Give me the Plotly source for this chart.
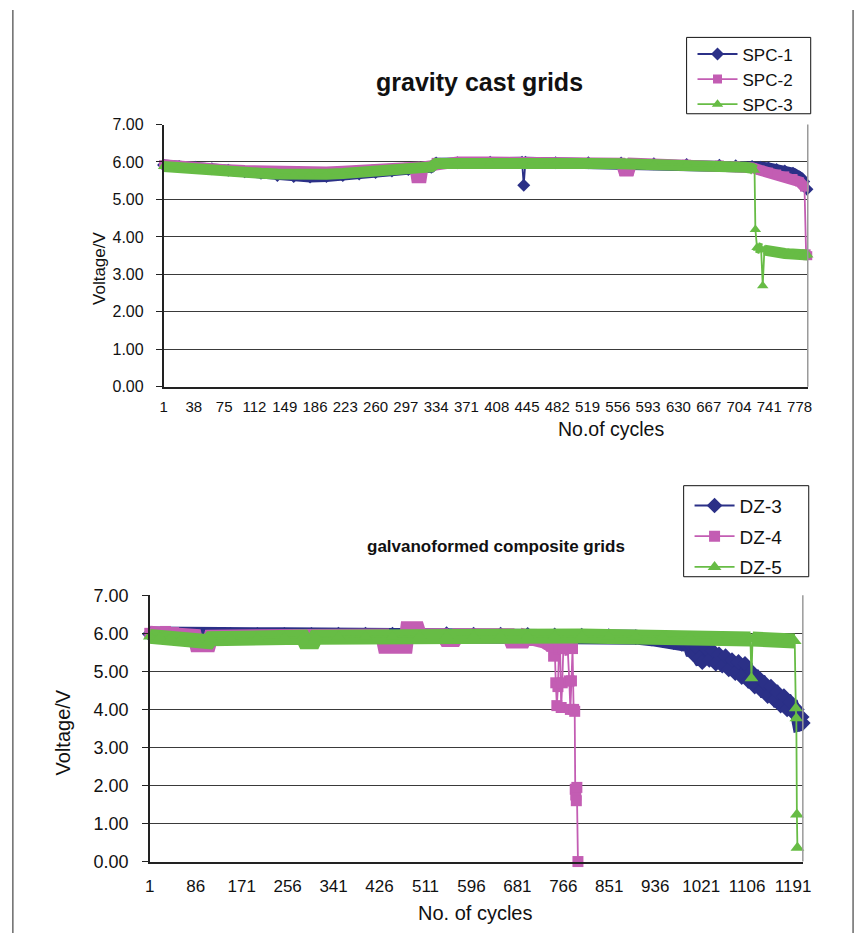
import plotly.graph_objects as go

W, H = 865, 943

# ---------------- top chart: gravity cast grids ----------------
top_ticks = [1, 38, 75, 112, 149, 186, 223, 260, 297, 334, 371, 408, 445,
             482, 519, 556, 593, 630, 667, 704, 741, 778]

spc1_cycles = [1, 20, 40, 60, 80, 100, 120, 140, 160, 180, 200, 220, 240, 260, 280, 300, 320, 328, 334, 360,
               400, 439, 441, 443, 480, 520, 560, 600, 640, 680, 700, 720, 730, 740, 750, 760, 770, 778, 783, 787]
spc1_volts = [5.92, 5.88, 5.86, 5.82, 5.78, 5.74, 5.70, 5.64, 5.61, 5.60, 5.61, 5.64, 5.68, 5.72, 5.76, 5.80, 5.84, 5.86, 5.97, 5.98,
              5.99, 5.99, 5.38, 5.99, 5.98, 5.98, 5.97, 5.95, 5.93, 5.91, 5.90, 5.88, 5.86, 5.84, 5.80, 5.76, 5.70, 5.60, 5.48, 5.27]
spc1_spikes = [441]

spc2_cycles = [1, 20, 40, 60, 80, 100, 120, 140, 160, 180, 200, 220, 240, 260, 280, 300, 308, 310, 316, 318,
               328, 334, 360, 400, 440, 480, 520, 560, 563, 570, 573, 600, 640, 680, 700, 720, 730, 740, 750, 760,
               770, 778, 784, 786, 788]
spc2_volts = [5.93, 5.88, 5.85, 5.81, 5.79, 5.77, 5.75, 5.73, 5.72, 5.72, 5.73, 5.75, 5.78, 5.81, 5.83, 5.86, 5.86, 5.58, 5.58, 5.87,
              5.90, 5.99, 6.00, 6.00, 6.00, 5.99, 5.98, 5.97, 5.76, 5.76, 5.97, 5.96, 5.94, 5.92, 5.90, 5.85, 5.78, 5.73, 5.68, 5.63,
              5.56, 5.47, 5.33, 3.55, 3.50]
spc2_spikes = [786, 788]

spc3_cycles = [1, 20, 40, 60, 80, 100, 120, 140, 160, 180, 200, 220, 240, 260, 280, 300, 320, 328, 334, 360,
               400, 440, 480, 520, 560, 600, 640, 680, 700, 712, 720, 723, 724, 726, 728, 731, 733, 735, 740, 745,
               750, 755, 760, 765, 770, 775, 780, 785, 788]
spc3_volts = [5.88, 5.84, 5.80, 5.76, 5.74, 5.72, 5.70, 5.68, 5.66, 5.66, 5.67, 5.69, 5.72, 5.76, 5.78, 5.82, 5.85, 5.87, 5.96, 5.97,
              5.97, 5.97, 5.97, 5.96, 5.95, 5.94, 5.92, 5.90, 5.88, 5.86, 5.83, 5.78, 4.20, 3.72, 3.70, 3.68, 2.70, 3.65, 3.62, 3.60,
              3.60, 3.58, 3.56, 3.55, 3.53, 3.52, 3.50, 3.50, 3.52]
spc3_spikes = [724, 733]

# ---------------- bottom chart: galvanoformed composite grids ----------------
bot_ticks = [1, 86, 171, 256, 341, 426, 511, 596, 681, 766, 851, 936, 1021, 1106, 1191]

dz3_cycles = [1, 20, 40, 60, 80, 100, 150, 200, 250, 300, 350, 400, 450, 500, 550, 600, 650, 700, 750, 800,
              850, 900, 930, 950, 970, 985, 995, 1000, 1006, 1012, 1018, 1023, 1030, 1036, 1042, 1048, 1054, 1060, 1066, 1072,
              1078, 1084, 1090, 1096, 1102, 1108, 1114, 1120, 1126, 1132, 1138, 1144, 1150, 1156, 1162, 1168, 1174, 1180, 1186, 1192,
              1198, 1203, 1207, 1209]
dz3_volts = [5.98, 5.97, 5.96, 5.96, 5.96, 5.96, 5.96, 5.96, 5.96, 5.96, 5.97, 5.97, 5.97, 5.98, 5.98, 5.97, 5.97, 5.96, 5.95, 5.94,
             5.93, 5.90, 5.86, 5.82, 5.77, 5.72, 5.68, 5.70, 5.45, 5.65, 5.35, 5.24, 5.60, 5.30, 5.55, 5.20, 5.45, 5.15, 5.40, 5.05,
             5.30, 4.95, 5.25, 4.85, 5.20, 4.75, 5.00, 4.60, 4.85, 4.50, 4.70, 4.35, 4.60, 4.25, 4.45, 4.10, 4.35, 4.00, 4.20, 3.90,
             4.00, 3.62, 3.80, 3.64]
dz3_spikes = []

dz4_cycles = [1, 15, 30, 45, 60, 84, 88, 110, 114, 150, 200, 250, 300, 350, 400, 432, 436, 474, 478, 496,
              500, 545, 549, 565, 569, 600, 640, 666, 670, 692, 696, 720, 730, 740, 745, 748, 750, 752, 754, 756,
              758, 760, 762, 764, 766, 770, 774, 777, 779, 781, 783, 785, 787, 788, 789, 790, 791, 793]
dz4_volts = [6.00, 5.98, 6.05, 6.02, 5.96, 5.92, 5.70, 5.70, 5.90, 5.90, 5.90, 5.91, 5.92, 5.92, 5.93, 5.93, 5.66, 5.66, 6.12, 6.12,
             5.94, 5.94, 5.84, 5.84, 5.94, 5.94, 5.94, 5.94, 5.80, 5.80, 5.92, 5.88, 5.80, 5.72, 5.66, 5.40, 5.65, 4.70, 4.10, 4.60,
             5.60, 5.65, 4.05, 4.70, 5.60, 5.65, 5.62, 4.75, 4.00, 4.75, 5.60, 4.00, 3.95, 1.90, 1.75, 1.60, 1.95, 0.00]
dz4_spikes = [748, 752, 754, 756, 762, 764, 777, 779, 781, 785, 787, 788, 789, 790, 791, 793]

dz5_cycles = [1, 20, 40, 60, 84, 88, 110, 114, 150, 200, 250, 284, 288, 304, 308, 350, 400, 450, 500, 550,
              600, 650, 700, 750, 800, 850, 900, 950, 1000, 1050, 1100, 1112, 1114, 1116, 1150, 1180, 1194, 1196, 1197, 1198,
              1199]
dz5_volts = [5.92, 5.90, 5.88, 5.86, 5.85, 5.78, 5.78, 5.86, 5.87, 5.88, 5.89, 5.90, 5.78, 5.78, 5.90, 5.91, 5.92, 5.92, 5.93, 5.93,
             5.93, 5.93, 5.93, 5.93, 5.93, 5.92, 5.92, 5.91, 5.90, 5.88, 5.86, 5.85, 4.82, 5.85, 5.84, 5.82, 5.80, 4.03, 3.77, 1.24,
             0.36]
dz5_spikes = [1114, 1196, 1197, 1198, 1199]

BLUE, PINK, GREEN = "#2B3087", "#C35DB3", "#67BC45"
FONT = "Liberation Sans, Arial, sans-serif"


def band(cyc, v, spikes):
    """Continuous body of a series: spike readings break the thick band."""
    bx, by = [], []
    for c, y in zip(cyc, v):
        if c in spikes:
            bx.append(None)
            by.append(None)
        else:
            bx.append(c)
            by.append(y)
    return bx, by


fig = go.Figure()


def add_series(name, cyc, v, spikes, color, symbol, xa, ya, legend, bw, ms):
    bx, by = band(cyc, v, spikes)
    fig.add_trace(go.Scatter(x=bx, y=by, mode="lines", xaxis=xa, yaxis=ya,
                             line=dict(color=color, width=bw), showlegend=False,
                             hoverinfo="skip", legend=legend, connectgaps=False))
    fig.add_trace(go.Scatter(x=cyc, y=v, mode="lines+markers", name=name, xaxis=xa, yaxis=ya,
                             line=dict(color=color, width=1.8),
                             marker=dict(color=color, symbol=symbol, size=ms),
                             legend=legend, legendgroup=name, cliponaxis=False))


add_series("SPC-1", spc1_cycles, spc1_volts, spc1_spikes, BLUE, "diamond", "x", "y", "legend", 11, 10)
add_series("SPC-2", spc2_cycles, spc2_volts, spc2_spikes, PINK, "square", "x", "y", "legend", 11, 9)
add_series("SPC-3", spc3_cycles, spc3_volts, spc3_spikes, GREEN, "triangle-up", "x", "y", "legend", 11, 10)
add_series("DZ-3", dz3_cycles, dz3_volts, dz3_spikes, BLUE, "diamond", "x2", "y2", "legend2", 15, 12)
add_series("DZ-4", dz4_cycles, dz4_volts, dz4_spikes, PINK, "square", "x2", "y2", "legend2", 15, 11)
add_series("DZ-5", dz5_cycles, dz5_volts, dz5_spikes, GREEN, "triangle-up", "x2", "y2", "legend2", 15, 12)


def px(x):
    return x / W


def py(y):
    return 1 - y / H


yax_common = dict(range=[0, 7], dtick=1, tickformat=".2f", showgrid=True, gridcolor="#3a3a3a",
                  gridwidth=1, zeroline=False, showline=True, linecolor="#222", linewidth=1.5,
                  ticks="outside", ticklen=6, tickcolor="#222", fixedrange=True)

fig.update_layout(
    width=W, height=H, margin=dict(l=0, r=0, t=0, b=0),
    paper_bgcolor="white", plot_bgcolor="white",
    font=dict(family=FONT, color="#111"),
    showlegend=True,
    xaxis=dict(domain=[px(161), px(815)], range=[1, 788], tickvals=top_ticks,
               showgrid=False, zeroline=False, showline=True, linecolor="#222", linewidth=1.5,
               ticks="", tickfont=dict(size=15), tickangle=0, ticklabelstandoff=5, anchor="y"),
    yaxis=dict(domain=[py(385), py(117)], anchor="x", tickfont=dict(size=16),
               ticklabelstandoff=9, **yax_common),
    xaxis2=dict(domain=[px(147), px(810)], range=[1, 1209], tickvals=bot_ticks,
                showgrid=False, zeroline=False, showline=True, linecolor="#222", linewidth=1.5,
                ticks="", tickfont=dict(size=17), tickangle=0, ticklabelstandoff=8, anchor="y2"),
    yaxis2=dict(domain=[py(870), py(598)], anchor="x2", tickfont=dict(size=18),
                ticklabelstandoff=10, **yax_common),
    legend=dict(x=px(698), y=py(27), xanchor="left", yanchor="top", bgcolor="rgba(0,0,0,0)",
                borderwidth=0, font=dict(size=17), tracegroupgap=0, itemwidth=40),
    legend2=dict(x=px(695), y=py(487), xanchor="left", yanchor="top", bgcolor="rgba(0,0,0,0)",
                 borderwidth=0, font=dict(size=19), tracegroupgap=3, itemwidth=40),
)

annots = [
    dict(text="<b>gravity cast grids</b>", x=px(482), y=py(74), size=25),
    dict(text="No.of cycles", x=px(615), y=py(428), size=19.5),
    dict(text="Voltage/V", x=px(96), y=py(264), size=17, textangle=-90),
    dict(text="<b>galvanoformed composite grids</b>", x=px(498), y=py(548), size=17),
    dict(text="No. of cycles", x=px(477), y=py(923), size=20),
    dict(text="Voltage/V", x=px(59), y=py(738), size=20, textangle=-90),
]
for a in annots:
    fig.add_annotation(text=a["text"], x=a["x"], y=a["y"], xref="paper", yref="paper",
                       xanchor="center", yanchor="middle", showarrow=False,
                       textangle=a.get("textangle", 0),
                       font=dict(size=a["size"], family=FONT, color="#111"))

# legend boxes
for x0, y0, x1, y1 in ((692, 28, 818, 106), (689, 486, 816, 579)):
    fig.add_shape(type="rect", xref="paper", yref="paper", layer="below",
                  x0=px(x0), x1=px(x1), y0=py(y1), y1=py(y0),
                  line=dict(color="#111", width=1), fillcolor="white")

# plot-area right borders (grey) and outer frame
for xd, yd in (("x domain", "y domain"), ("x2 domain", "y2 domain")):
    fig.add_shape(type="line", xref=xd, yref=yd, x0=1, x1=1, y0=0, y1=1,
                  line=dict(color="#9a9a9a", width=1.5))
fig.add_shape(type="line", xref="paper", yref="paper", x0=px(8), x1=px(8), y0=0, y1=1,
              line=dict(color="#444", width=1.2))
fig.add_shape(type="line", xref="paper", yref="paper", x0=px(861), x1=px(861), y0=0, y1=1,
              line=dict(color="#444", width=1.2))

fig.write_html("out.html", config={"displayModeBar": False},
               post_script="document.body.style.margin='0';")
